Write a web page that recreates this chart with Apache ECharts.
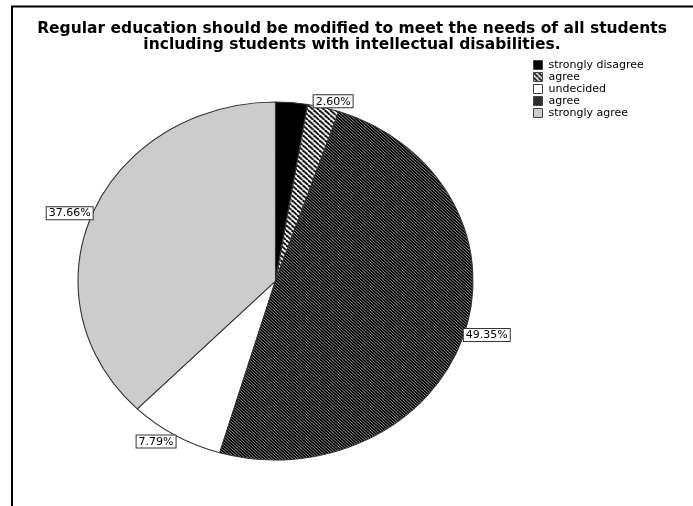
<!DOCTYPE html>
<html>
<head>
<meta charset="utf-8">
<script src="https://cdn.jsdelivr.net/npm/echarts@6/dist/echarts.min.js"></script>
<style>
  html, body { margin: 0; padding: 0; background: #fff; }
  #chart { width: 693px; height: 506px; }
</style>
</head>
<body>
<div id="chart"></div>
<script>
// Legend order of the answer categories and their shares (%)
const categories = ['strongly disagree', 'agree', 'undecided', 'agree', 'strongly agree'];
const percents = [2.60, 2.60, 7.79, 49.35, 37.66];
// Clockwise drawing order of the slices, starting at twelve o'clock
const sliceOrder = [0, 1, 3, 2, 4];

const titleText = 'Regular education should be modified to meet the needs of all students\nincluding students with intellectual disabilities.';

// Pie geometry (slightly elliptical pie)
const CX = 275.5, CY = 281, RY = 179, RX = 197.5;

function hatch(size, bg, fg, width) {
  const c = document.createElement('canvas');
  c.width = size; c.height = size;
  const g = c.getContext('2d');
  g.fillStyle = bg;
  g.fillRect(0, 0, size, size);
  g.strokeStyle = fg;
  g.lineWidth = width;
  for (let k = -1; k <= 1; k++) {
    g.beginPath();
    g.moveTo(k * size, 0);
    g.lineTo(k * size + size, size);
    g.stroke();
  }
  return { image: c, repeat: 'repeat' };
}

const fills = [
  '#000000',
  hatch(5, '#ffffff', '#000000', 1.8),
  '#ffffff',
  hatch(3, '#000000', '#8c8c8c', 1),
  '#cccccc'
];

// Slice angles from the shares
const total = percents.reduce((a, b) => a + b, 0);
const startA = [], endA = [];
let acc = 0;
sliceOrder.forEach(function (i) {
  startA[i] = -Math.PI / 2 + acc / total * Math.PI * 2;
  acc += percents[i];
  endA[i] = -Math.PI / 2 + acc / total * Math.PI * 2;
});

// Label placement at the rim, hiding labels that would collide
const labels = [];
const placed = [];
sliceOrder.slice().reverse().forEach(function (i) {
  const mid = (startA[i] + endA[i]) / 2;
  const c = Math.cos(mid), s = Math.sin(mid);
  const x = CX + RX * c, y = CY + RY * s;
  const align = c > 0.5 ? 'left' : (c < -0.5 ? 'right' : 'center');
  const valign = s < -0.5 ? 'bottom' : (s > 0.5 ? 'top' : 'middle');
  const text = percents[i].toFixed(2) + '%';
  const w = text.length * 7 + 6, h = 15;
  const x0 = align === 'left' ? x : (align === 'right' ? x - w : x - w / 2);
  const y0 = valign === 'top' ? y : (valign === 'bottom' ? y - h : y - h / 2);
  const hit = placed.some(function (r) {
    return x0 < r[0] + r[2] && r[0] < x0 + w && y0 < r[1] + r[3] && r[1] < y0 + h;
  });
  if (!hit) placed.push([x0, y0, w, h]);
  // nudge centred labels toward the side their slice leans to
  const dx = align === 'center' ? c * 40 : 0;
  labels[i] = { show: !hit, x: x + dx, y: y, align: align, valign: valign, text: text };
});

const chart = echarts.init(document.getElementById('chart'));

const series = categories.map(function (name, i) {
  return {
    type: 'custom',
    name: 'slice' + i,
    coordinateSystem: 'none',
    itemStyle: { color: fills[i], borderColor: '#333', borderWidth: 1 },
    data: [[percents[i]]],
    silent: true,
    renderItem: function (params, api) {
      const k = params.seriesIndex;
      const children = [{
        type: 'sector',
        shape: { cx: CX, cy: CY, r: RY, r0: 0, startAngle: startA[k], endAngle: endA[k], clockwise: true },
        scaleX: RX / RY,
        originX: CX,
        originY: CY,
        style: { fill: fills[k], stroke: '#333', lineWidth: 1, strokeNoScale: true }
      }];
      const lb = labels[k];
      if (lb.show) {
        children.push({
          type: 'text',
          x: lb.x,
          y: lb.y,
          z2: 100,
          style: {
            text: lb.text,
            fill: '#000',
            font: '11px "DejaVu Sans"',
            align: lb.align,
            verticalAlign: lb.valign,
            backgroundColor: '#fff',
            borderColor: '#333',
            borderWidth: 1,
            padding: [1, 2, 0, 2]
          }
        });
      }
      return { type: 'group', children: children };
    }
  };
});

chart.setOption({
  animation: false,
  backgroundColor: '#fff',
  title: {
    text: titleText,
    left: 352,
    textAlign: 'center',
    top: 21,
    padding: 0,
    textStyle: {
      fontFamily: 'DejaVu Sans',
      fontSize: 15.5,
      fontWeight: 'bold',
      lineHeight: 16,
      color: '#000'
    }
  },
  legend: {
    orient: 'vertical',
    left: 533,
    top: 59,
    padding: 0,
    itemWidth: 9,
    itemHeight: 9,
    itemGap: 0,
    icon: 'rect',
    selectedMode: false,
    data: categories.map(function (c, i) { return 'slice' + i; }),
    formatter: function (name) { return categories[+name.replace('slice', '')]; },
    itemStyle: { borderColor: '#444', borderWidth: 1 },
    textStyle: { fontFamily: 'DejaVu Sans', fontSize: 11, lineHeight: 12, color: '#000', padding: [0, 0, 0, 1] }
  },
  graphic: [{
    type: 'rect',
    silent: true,
    shape: { x: 12, y: 6.5, width: 900, height: 700 },
    style: { fill: 'none', stroke: '#000', lineWidth: 2 }
  }],
  series: series
});
</script>
</body>
</html>
